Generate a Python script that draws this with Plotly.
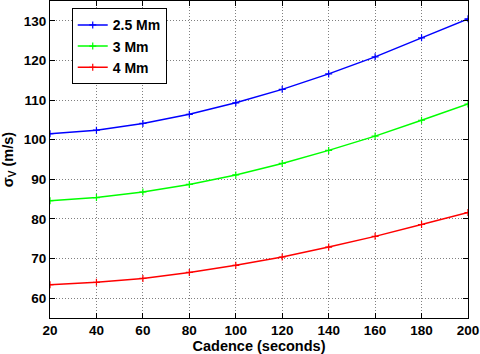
import plotly.graph_objects as go

cadence = [20, 40, 60, 80, 100, 120, 140, 160, 180, 200]
sigma_25 = [101.5, 102.4, 104.1, 106.4, 109.3, 112.7, 116.6, 120.9, 125.7, 130.5]
sigma_3 = [84.6, 85.4, 86.8, 88.7, 91.1, 94.0, 97.3, 100.9, 104.9, 109.0]
sigma_4 = [63.4, 64.0, 65.0, 66.5, 68.3, 70.4, 72.9, 75.6, 78.6, 81.6]
names = ["2.5 Mm", "3 Mm", "4 Mm"]
colors = ["#0000ff", "#00ff00", "#ff0000"]
xticks = [20, 40, 60, 80, 100, 120, 140, 160, 180, 200]
yticks = [60, 70, 80, 90, 100, 110, 120, 130]

FAM = "Liberation Sans, Arial, sans-serif"

fig = go.Figure()
for name, ys, c in zip(names, [sigma_25, sigma_3, sigma_4], colors):
    fig.add_trace(go.Scatter(
        x=cadence, y=ys, name=name, mode="lines+markers",
        line=dict(color=c, width=1.5),
        marker=dict(symbol="cross-thin", size=5, line=dict(color=c, width=1.2), color=c),
    ))

axis_common = dict(
    showline=True, linecolor="black", linewidth=1, mirror="ticks",
    ticks="inside", ticklen=5, tickcolor="black",
    showgrid=True, gridcolor="#808080", griddash="1px,2px", gridwidth=1,
    zeroline=False, tickfont=dict(family=FAM, size=13.5, color="black", weight="bold"),
)
fig.update_layout(
    width=480, height=354,
    margin=dict(l=50, r=12, t=1, b=36),
    paper_bgcolor="white", plot_bgcolor="white",
    font=dict(family=FAM, size=13, color="black"),
    showlegend=True,
    legend=dict(
        x=0.052, y=0.977, xanchor="left", yanchor="top",
        bgcolor="white", bordercolor="black", borderwidth=1,
        font=dict(family=FAM, size=14, color="black", weight="bold"),
        tracegroupgap=0, itemwidth=30,
    ),
    xaxis=dict(range=[20, 200], tickvals=xticks, **axis_common,
               title=dict(text="Cadence (seconds)", standoff=3,
                          font=dict(family=FAM, size=14.5, color="black", weight="bold"))),
    yaxis=dict(range=[55, 135], tickvals=yticks, **axis_common,
               title=dict(text="σ<sub>V</sub> (m/s)", standoff=6,
                          font=dict(family=FAM, size=14.5, color="black", weight="bold"))),
)
fig.write_html("out.html", config={"displayModeBar": False},
               post_script="document.body.style.margin='0';document.body.style.padding='0';")
